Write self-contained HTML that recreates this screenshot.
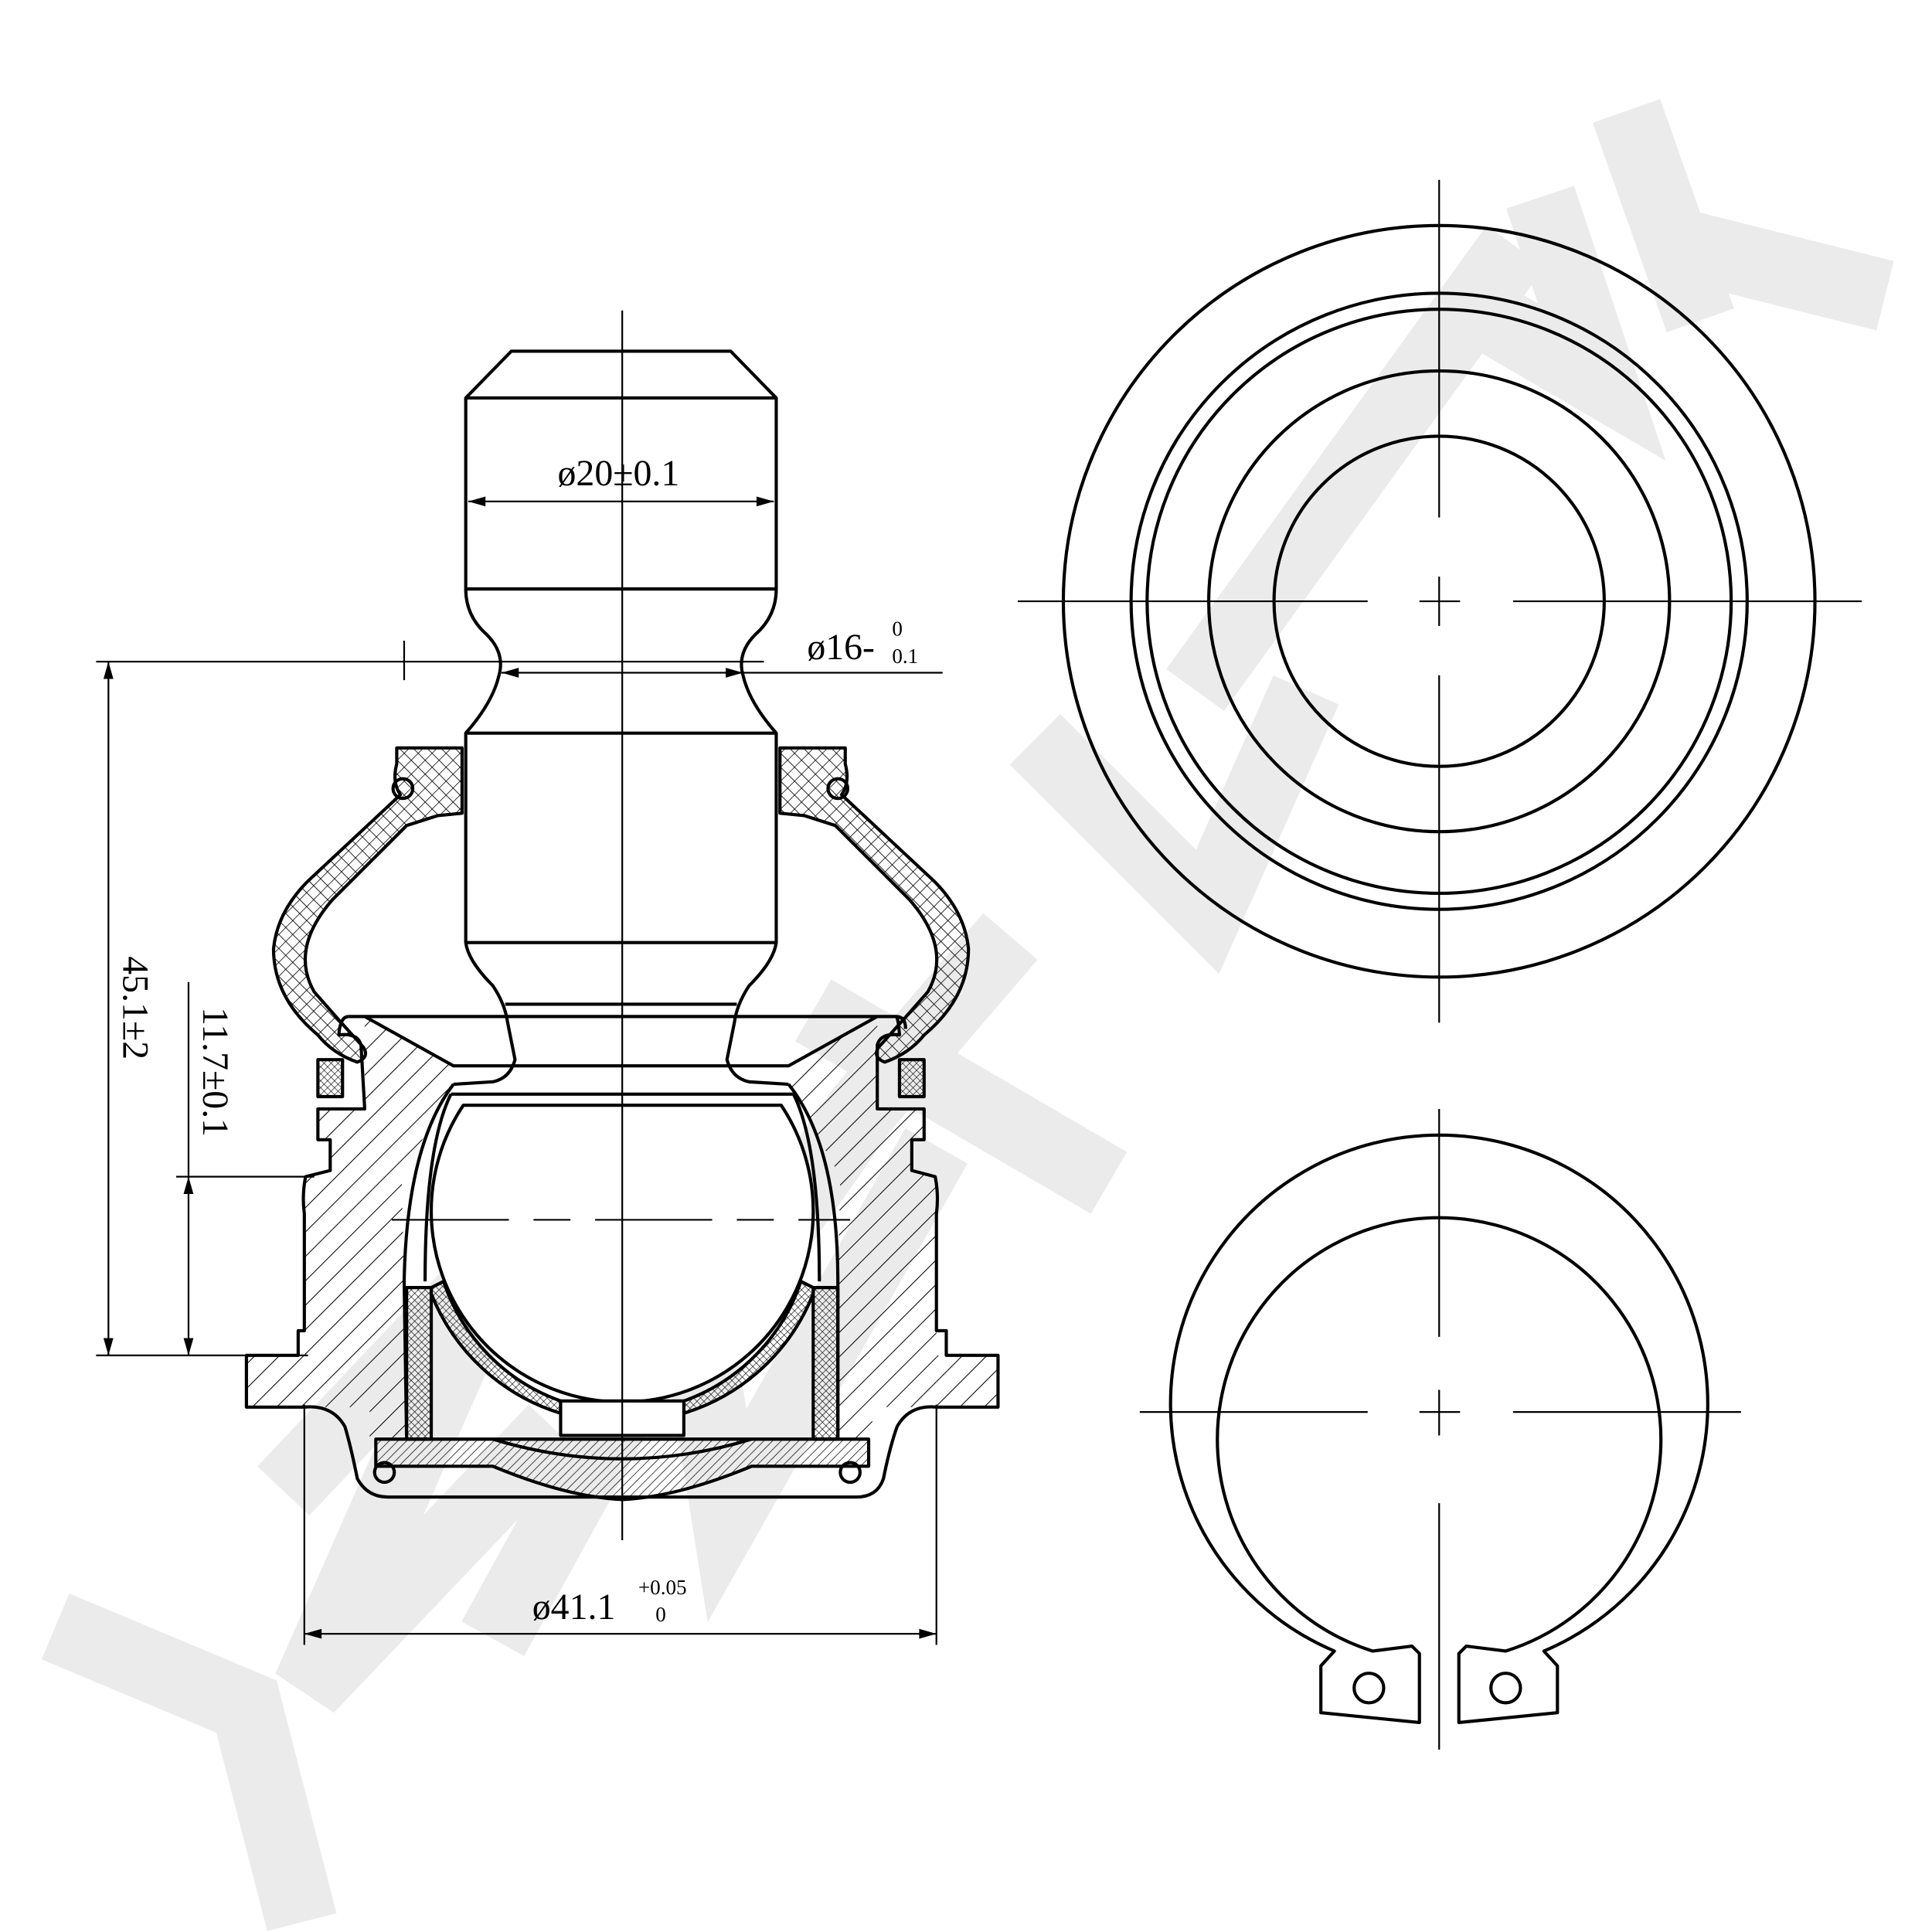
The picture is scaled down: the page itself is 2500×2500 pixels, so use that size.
<!DOCTYPE html>
<html><head><meta charset="utf-8"><style>
html,body{margin:0;padding:0;background:#fff}
svg{display:block}
text{font-family:"Liberation Serif",serif;fill:#000}
</style></head><body>
<svg width="2500" height="2500" viewBox="0 0 1568 1568" xmlns="http://www.w3.org/2000/svg">
<defs>
<pattern id="h1" width="14" height="14" patternUnits="userSpaceOnUse" patternTransform="rotate(45)"><line x1="0" y1="0" x2="0" y2="14" stroke="#000" stroke-width="1.3"/></pattern>
<pattern id="h2" width="5" height="5" patternUnits="userSpaceOnUse" patternTransform="rotate(45)"><line x1="0" y1="0" x2="0" y2="5" stroke="#000" stroke-width="0.9"/></pattern>
<pattern id="hx" width="8" height="8" patternUnits="userSpaceOnUse" patternTransform="rotate(45)"><path d="M0 0V8M0 0H8" stroke="#000" stroke-width="1"/></pattern>
<pattern id="hxs" width="4" height="4" patternUnits="userSpaceOnUse" patternTransform="rotate(45)"><path d="M0 0V4M0 0H4" stroke="#000" stroke-width="0.8"/></pattern>
</defs>
<rect width="1568" height="1568" fill="#fff"/>
<g stroke="#ebebeb" stroke-width="58" fill="none" stroke-linejoin="miter" stroke-linecap="butt">
<polyline points="45,1320 200,1385 245,1560"/>
<polyline points="230,1210 400,1030 250,1370 450,1160"/>
<polyline points="400,1330 560,1040 590,1230 760,930"/>
<polyline points="560,1100 700,900 820,760"/>
<polyline points="660,820 900,960"/>
<polyline points="840,600 980,740 1060,560"/>
<polyline points="970,560 1230,200"/>
<polyline points="1180,240 1300,310 1250,160"/>
<polyline points="1320,90 1380,260"/>
<polyline points="1370,200 1530,240"/>
</g>
<g fill="none" stroke="#000" stroke-width="2.6" stroke-linejoin="round">
<circle cx="1168" cy="488" r="305"/>
<circle cx="1168" cy="488" r="250"/>
<circle cx="1168" cy="488" r="237"/>
<circle cx="1168" cy="488" r="187"/>
<circle cx="1168" cy="488" r="134"/>
<path d="M1152,1342 L1152,1398 L1072,1390 L1072,1352 L1083,1340 A218,218 0 1 1 1253,1340 L1264,1352 L1264,1390 L1184,1398 L1184,1342 L1190,1336 L1222,1340 A180,180 0 1 0 1114,1340 L1146,1336 Z"/>
<circle cx="1111" cy="1370" r="12"/>
<circle cx="1222" cy="1370" r="12"/>
<path d="M378,323 L415,285 L593,285 L630,323 L630,478 L378,478 Z"/>
<line x1="378" y1="323" x2="630" y2="323"/>
<path d="M378,478 Q378,500 395,515 Q410,530 405,548 Q400,570 378,595"/>
<path d="M630,478 Q630,500 613,515 Q598,530 603,548 Q608,570 630,595"/>
<rect x="378" y="595" width="252" height="170"/>
<path d="M378,765 Q380,780 400,800 Q410,815 412,830 L418,860 Q414,875 400,878 L368,880"/>
<path d="M630,765 Q628,780 608,800 Q598,815 596,830 L590,860 Q594,875 608,878 L640,880"/>
<line x1="410" y1="815" x2="598" y2="815"/>
<path d="M283,825 L727,825 Q735,825 735,835"/>
<path d="M283,825 Q276,825 275,840 Q290,838 293,848 L296,900 L258,900 L258,925 L268,925 L268,950 L248,955 Q245,970 247,985 L247,1080 L242,1080 L242,1100 L200,1100 L200,1142 L247,1142 Q270,1140 280,1158 Q285,1175 290,1200 Q298,1215 315,1215 L695,1215 Q712,1215 717,1200 Q722,1175 728,1158 Q738,1140 760,1142 L810,1142 L810,1100 L768,1100 L768,1080 L760,1080 L760,985 Q762,970 759,955 L740,950 L740,925 L750,925 L750,900 L712,900 L712,848 Q715,838 730,840 Q729,825 727,825"/>
<path d="M296,825 L368,865 L368,880 L326,955 L328,1040 L330,1168 L300,1168 L300,1142 L247,1142 L247,955 L268,950 L268,925 L258,925 L258,900 L296,900 Z" fill="url(#h1)" stroke="none"/>
<path d="M712,825 L640,865 L640,880 L682,955 L680,1040 L680,1168 L708,1168 L708,1142 L760,1142 L760,955 L740,950 L740,925 L750,925 L750,900 L712,900 Z" fill="url(#h1)" stroke="none"/>
<path d="M200,1100 L247,1100 L247,1142 L200,1142 Z" fill="url(#h1)" stroke="none"/>
<path d="M760,1100 L810,1100 L810,1142 L760,1142 Z" fill="url(#h1)" stroke="none"/>
<path d="M296,825 L368,865 L640,865 L712,825"/>
<path d="M368,880 Q330,930 328,1040 L330,1168"/>
<path d="M640,880 Q680,930 680,1040 L680,1168"/>
<path d="M376,897 A155,155 0 1 0 634,897 Z" fill="#fff"/>
<line x1="366" y1="888" x2="644" y2="888"/>
<path d="M366,888 Q345,930 345,1040"/>
<path d="M644,888 Q665,930 665,1040"/>
<!-- liner strips -->
<rect x="330" y="1045" width="20" height="123" fill="url(#hxs)"/>
<rect x="660" y="1045" width="20" height="123" fill="url(#hxs)"/>
<path d="M350,1045 L360,1040 A155,155 0 0 0 455,1137 L455,1147 A165,165 0 0 1 350,1050 Z" fill="url(#hxs)"/>
<path d="M660,1045 L650,1040 A155,155 0 0 1 555,1137 L555,1147 A165,165 0 0 0 660,1050 Z" fill="url(#hxs)"/>
<rect x="455" y="1137" width="100" height="28" fill="#fff"/>
<path d="M305,1168 L705,1168 L705,1190 L610,1190 Q550,1215 505,1217 Q460,1215 400,1190 L305,1190 Z" fill="url(#h2)"/>
<path d="M400,1168 Q505,1200 610,1168" />
<circle cx="312" cy="1195" r="8"/><circle cx="690" cy="1195" r="8"/>
<path d="M322,607 L375,607 L375,660 L355,662 L330,670 L270,730 Q235,770 255,805 Q275,828 295,850 Q300,858 290,862 Q270,855 258,840 Q222,810 222,770 Q225,740 250,715 L325,645 Q318,635 322,620 Z" fill="url(#hx)"/>
<path d="M686,607 L633,607 L633,660 L653,662 L678,670 L738,730 Q773,770 753,805 Q733,828 713,850 Q708,858 718,862 Q738,855 750,840 Q786,810 786,770 Q783,740 758,715 L683,645 Q690,635 686,620 Z" fill="url(#hx)"/>
<circle cx="327" cy="640" r="8"/><circle cx="680" cy="640" r="8"/>
<rect x="258" y="860" width="20" height="30" fill="url(#hxs)"/>
<rect x="730" y="860" width="20" height="30" fill="url(#hxs)"/>
</g>
<g stroke="#000" stroke-width="1.4" fill="none">
<line x1="826" y1="488" x2="1110" y2="488"/><line x1="1152" y1="488" x2="1185" y2="488"/><line x1="1228" y1="488" x2="1511" y2="488"/>
<line x1="1168" y1="146" x2="1168" y2="420"/><line x1="1168" y1="468" x2="1168" y2="508"/><line x1="1168" y1="548" x2="1168" y2="830"/>
<line x1="925" y1="1146" x2="1110" y2="1146"/><line x1="1152" y1="1146" x2="1185" y2="1146"/><line x1="1228" y1="1146" x2="1413" y2="1146"/>
<line x1="1168" y1="900" x2="1168" y2="1085"/><line x1="1168" y1="1128" x2="1168" y2="1165"/><line x1="1168" y1="1220" x2="1168" y2="1420"/>
<line x1="505" y1="252" x2="505" y2="1250"/>
<line x1="318" y1="990" x2="690" y2="990" stroke-dasharray="95,20,30,20"/>
<line x1="380" y1="407" x2="628" y2="407"/>
<line x1="407" y1="546" x2="765" y2="546"/>
<line x1="78" y1="537" x2="620" y2="537"/>
<line x1="328" y1="520" x2="328" y2="552"/>
<line x1="78" y1="1100" x2="250" y2="1100"/>
<line x1="88" y1="537" x2="88" y2="1100"/>
<line x1="143" y1="955" x2="255" y2="955"/>
<line x1="153" y1="797" x2="153" y2="1100"/>
<line x1="247" y1="1140" x2="247" y2="1335"/>
<line x1="760" y1="1140" x2="760" y2="1335"/>
<line x1="247" y1="1326" x2="760" y2="1326"/>
</g>
<g fill="#000">
<path d="M380,407 l14,-4 v8z M628,407 l-14,-4 v8z"/>
<path d="M407,546 l14,-4 v8z M603,546 l-14,-4 v8z"/>
<path d="M88,537 l-4,14 h8z M88,1100 l-4,-14 h8z"/>
<path d="M153,955 l-4,14 h8z M153,1100 l-4,-14 h8z"/>
<path d="M247,1326 l14,-4 v8z M760,1326 l-14,-4 v8z"/>
</g>
<text x="502" y="394" font-size="30" text-anchor="middle">ø20±0.1</text>
<text x="655" y="535" font-size="30">ø16-</text>
<text x="724" y="516" font-size="17">0</text>
<text x="724" y="538" font-size="17">0.1</text>
<text transform="translate(100,818) rotate(90)" font-size="30" text-anchor="middle">45.1±2</text>
<text transform="translate(165,870) rotate(90)" font-size="30" text-anchor="middle">11.7±0.1</text>
<text x="432" y="1314" font-size="30">ø41.1</text>
<text x="518" y="1294" font-size="17">+0.05</text>
<text x="532" y="1316" font-size="17">0</text>
</svg>
</body></html>
